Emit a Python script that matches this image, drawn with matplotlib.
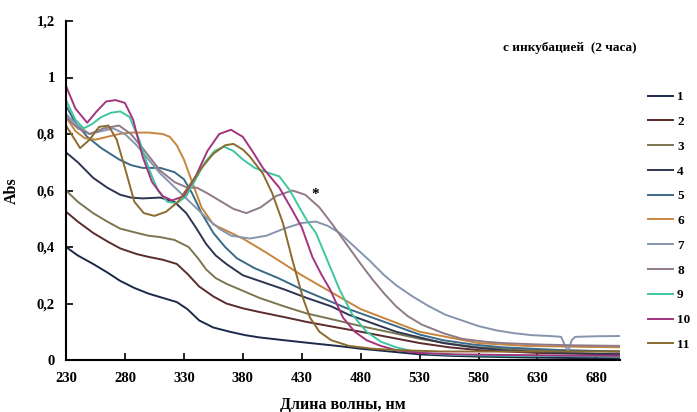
import numpy as np
import matplotlib
matplotlib.use('Agg')
import matplotlib.pyplot as plt

plt.rcParams['font.family'] = ['Liberation Serif', 'DejaVu Serif']
plt.rcParams['font.weight'] = 'bold'

# spectra (wavelength, nm / absorbance)
wl1 = [230, 240, 253, 265, 276, 288, 300, 312, 324, 333, 343, 355, 369, 382, 394, 415, 437, 460, 480, 505, 530, 555, 580, 620, 660, 700]
a1 = [0.40, 0.37, 0.34, 0.31, 0.28, 0.255, 0.235, 0.22, 0.205, 0.18, 0.14, 0.115, 0.10, 0.088, 0.08, 0.07, 0.06, 0.05, 0.04, 0.03, 0.02, 0.015, 0.012, 0.009, 0.007, 0.006]

wl2 = [230, 240, 253, 265, 276, 290, 300, 312, 324, 333, 343, 355, 366, 380, 394, 415, 434, 460, 480, 505, 530, 555, 580, 630, 700]
a2 = [0.525, 0.49, 0.45, 0.42, 0.395, 0.375, 0.365, 0.355, 0.34, 0.305, 0.26, 0.225, 0.20, 0.183, 0.17, 0.152, 0.135, 0.115, 0.10, 0.08, 0.06, 0.045, 0.035, 0.025, 0.02]

wl3 = [230, 240, 253, 265, 276, 290, 300, 310, 322, 334, 342, 349, 357, 366, 380, 394, 415, 434, 460, 480, 505, 530, 555, 580, 630, 700]
a3 = [0.60, 0.56, 0.52, 0.49, 0.465, 0.45, 0.44, 0.435, 0.425, 0.40, 0.36, 0.32, 0.29, 0.27, 0.245, 0.22, 0.19, 0.165, 0.14, 0.12, 0.098, 0.075, 0.058, 0.045, 0.035, 0.03]

wl4 = [230, 240, 253, 265, 276, 285, 295, 310, 322, 332, 340, 349, 357, 366, 380, 394, 415, 434, 455, 470, 490, 510, 530, 550, 575, 600, 650, 700]
a4 = [0.735, 0.70, 0.645, 0.61, 0.585, 0.575, 0.572, 0.575, 0.56, 0.52, 0.47, 0.41, 0.37, 0.34, 0.30, 0.28, 0.25, 0.22, 0.19, 0.16, 0.13, 0.10, 0.08, 0.06, 0.045, 0.035, 0.025, 0.02]

wl5 = [230, 238, 248, 260, 275, 285, 295, 310, 322, 330, 337, 345, 355, 365, 375, 390, 410, 430, 450, 470, 490, 510, 530, 550, 575, 600, 650, 700]
a5 = [0.90, 0.84, 0.79, 0.75, 0.71, 0.69, 0.68, 0.68, 0.665, 0.64, 0.59, 0.52, 0.45, 0.40, 0.36, 0.325, 0.29, 0.25, 0.215, 0.18, 0.15, 0.12, 0.09, 0.07, 0.055, 0.045, 0.035, 0.03]

wl6 = [230, 238, 246, 255, 265, 275, 285, 300, 312, 318, 324, 330, 337, 345, 355, 365, 380, 400, 430, 455, 480, 505, 530, 555, 580, 620, 660, 700]
a6 = [0.86, 0.81, 0.785, 0.78, 0.79, 0.80, 0.805, 0.805, 0.80, 0.79, 0.76, 0.71, 0.63, 0.54, 0.48, 0.46, 0.43, 0.38, 0.30, 0.24, 0.18, 0.14, 0.10, 0.08, 0.06, 0.05, 0.047, 0.045]

wl7 = [230, 240, 250, 260, 270, 280, 290, 300, 310, 320, 330, 340, 350, 360, 370, 386, 400, 415, 430, 442, 452, 462, 475, 488, 500, 510, 524, 538, 552, 566, 580, 595, 610, 625, 640, 650, 653, 656, 659, 662, 680, 700]
a7 = [0.87, 0.83, 0.80, 0.81, 0.82, 0.80, 0.76, 0.71, 0.66, 0.62, 0.58, 0.54, 0.50, 0.465, 0.44, 0.43, 0.44, 0.465, 0.485, 0.49, 0.475, 0.45, 0.40, 0.35, 0.30, 0.265, 0.225, 0.19, 0.16, 0.14, 0.12, 0.105, 0.095, 0.088, 0.085, 0.082, 0.055, 0.03, 0.07, 0.082, 0.084, 0.085]

wl8 = [230, 240, 250, 262, 275, 285, 295, 310, 322, 333, 341, 350, 360, 372, 383, 395, 408, 422, 433, 445, 456, 468, 480, 490, 500, 510, 520, 532, 550, 566, 585, 600, 630, 660, 700]
a8 = [0.86, 0.82, 0.80, 0.82, 0.83, 0.80, 0.75, 0.67, 0.63, 0.61, 0.61, 0.59, 0.565, 0.535, 0.52, 0.54, 0.58, 0.60, 0.585, 0.54, 0.48, 0.41, 0.34, 0.285, 0.235, 0.19, 0.155, 0.125, 0.095, 0.075, 0.065, 0.06, 0.055, 0.052, 0.05]

wl9 = [230, 238, 245, 252, 260, 268, 276, 284, 292, 300, 308, 316, 324, 332, 340, 348, 356, 364, 372, 380, 390, 400, 411, 420, 428, 435, 442, 451, 462, 473, 485, 497, 510, 525, 540, 560, 600, 650, 700]
a9 = [0.92, 0.85, 0.82, 0.835, 0.86, 0.875, 0.88, 0.86, 0.78, 0.68, 0.60, 0.56, 0.555, 0.58, 0.64, 0.70, 0.74, 0.755, 0.74, 0.71, 0.68, 0.665, 0.65, 0.60, 0.54, 0.49, 0.45, 0.36, 0.25, 0.16, 0.10, 0.065, 0.045, 0.03, 0.022, 0.018, 0.015, 0.014, 0.013]

wl10 = [230, 238, 248, 256, 264, 272, 280, 287, 295, 303, 312, 320, 330, 340, 350, 360, 370, 380, 388, 397, 411, 422, 430, 439, 447, 454, 465, 475, 485, 497, 510, 530, 560, 600, 650, 700]
a10 = [0.97, 0.89, 0.84, 0.88, 0.915, 0.92, 0.91, 0.85, 0.72, 0.63, 0.58, 0.565, 0.58, 0.65, 0.74, 0.80, 0.815, 0.79, 0.74, 0.68, 0.61, 0.53, 0.47, 0.365, 0.30, 0.25, 0.15, 0.10, 0.07, 0.05, 0.035, 0.025, 0.02, 0.018, 0.016, 0.015]

wl11 = [230, 236, 242, 250, 258, 266, 273, 280, 288, 296, 305, 315, 325, 335, 345, 355, 365, 372, 380, 386, 397, 405, 414, 422, 431, 437, 445, 455, 470, 490, 510, 550, 600, 650, 700]
a11 = [0.83, 0.79, 0.75, 0.78, 0.825, 0.83, 0.78, 0.68, 0.56, 0.52, 0.51, 0.525, 0.56, 0.62, 0.68, 0.73, 0.76, 0.765, 0.745, 0.72, 0.66, 0.59, 0.485, 0.355, 0.22, 0.15, 0.10, 0.07, 0.05, 0.04, 0.035, 0.03, 0.03, 0.03, 0.03]

series = [(wl1, a1), (wl2, a2), (wl3, a3), (wl4, a4), (wl5, a5), (wl6, a6),
          (wl7, a7), (wl8, a8), (wl9, a9), (wl10, a10), (wl11, a11)]
labels = ['1', '2', '3', '4', '5', '6', '7', '8', '9', '10', '11']
colors = ['#1c2a4a', '#5c2b2b', '#7d7550', '#2e3550', '#3b6a88', '#c7853e',
          '#8694ad', '#8e7a88', '#3fc6a0', '#a23480', '#8b6b2e']

xticks = [230, 280, 330, 380, 430, 480, 530, 580, 630, 680]
yticks = [0, 0.2, 0.4, 0.6, 0.8, 1.0, 1.2]
ytick_labels = ['0', '0,2', '0,4', '0,6', '0,8', '1', '1,2']

fig = plt.figure(figsize=(6.97, 4.12), dpi=100)
ax = fig.add_axes([66 / 697, 1 - 360 / 412, (620 - 66) / 697, (360 - 21) / 412])

for (x, y), lab, c in zip(series, labels, colors):
    ax.plot(x, y, color=c, lw=1.4, label=lab)

ax.set_xlim(230, 700)
ax.set_ylim(0, 1.2)
ax.set_xticks(xticks)
ax.set_yticks(yticks)
ax.set_yticklabels(ytick_labels)
ax.tick_params(direction='in', length=5, width=1.2, labelsize=10.5)
ax.tick_params(axis='x', pad=9)
ax.tick_params(axis='y', pad=8)
for s in ['top', 'right']:
    ax.spines[s].set_visible(False)
for s in ['left', 'bottom']:
    ax.spines[s].set_linewidth(1.5)

ax.set_xlabel('Длина волны, нм', fontsize=11.5, fontweight='bold', labelpad=8)
ax.set_ylabel('Abs', fontsize=11.5, fontweight='bold', labelpad=12)

ax.text(441, 0.585, '*', fontsize=11, fontweight='bold', ha='center', va='center')
fig.text(570 / 697, 1 - 48 / 412, 'с инкубацией  (2 часа)', fontsize=9.5,
         fontweight='bold', ha='center', va='center')

fig.legend(loc='upper left', bbox_to_anchor=(648 / 697, 1 - 91 / 412),
           frameon=False, fontsize=9.5, labelspacing=0.95, handlelength=1.9,
           handletextpad=0.3, borderaxespad=0, borderpad=0)

fig.savefig('out.png', dpi=100)
